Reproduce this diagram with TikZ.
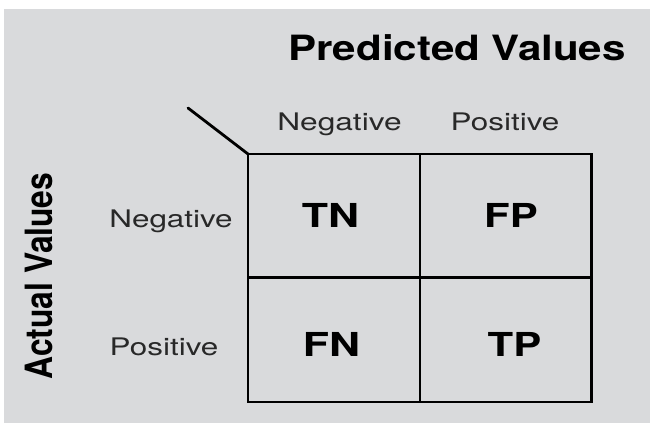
\documentclass[tikz,border=0pt]{standalone}
\usepackage{graphicx}
\usepackage{fontspec}
\setmainfont{TeX Gyre Heros}
\definecolor{panel}{RGB}{217,218,220}
\definecolor{labelgray}{RGB}{40,40,40}
\tikzset{
  txt/.style={anchor=base, inner sep=0pt, outer sep=0pt},
  title/.style={txt, text=black, font=\bfseries\fontsize{34.8}{34.8}\selectfont},
  axis/.style={txt, text=labelgray, font=\fontsize{24.2}{24.2}\selectfont},
  cell/.style={txt, text=black, font=\bfseries\fontsize{33}{33}\selectfont},
  grid/.style={line width=2.8pt, black, line cap=rect}
}
\begin{document}
\begin{tikzpicture}[x=1pt, y=-1pt]
  \useasboundingbox (0,0) rectangle (650,423);
  \fill[white] (0,0) rectangle (650,423);
  \fill[panel] (4,9) rectangle (650,423);

  % matrix frame
  \coordinate (tl) at (248,154);
  \coordinate (tr) at (591.5,154);
  \coordinate (bl) at (248,402);
  \coordinate (br) at (591.5,402);
  \coordinate (tm) at (420,154);
  \coordinate (bm) at (420,402);
  \coordinate (ml) at (248,277.5);
  \coordinate (mr) at (591.5,277.5);
  \coordinate (corner) at (188,108);
  \draw[grid] (tl) rectangle (br);
  \draw[grid] (tm) -- (bm);
  \draw[grid] (ml) -- (mr);
  \draw[line width=2.8pt, line cap=round] (corner) -- (tl);

  % headings
  \node[title] (pred) at (457,60) {\scalebox{1.21}[1]{Predicted Values}};
  \node[title, rotate=90, font=\bfseries\fontsize{37.6}{37.6}\selectfont] (act) at (52,276)
       {\scalebox{0.845}[1]{Actual Values}};

  % column and row labels
  \node[axis] (cneg) at (339.5,130.5) {\scalebox{1.31}[1]{Negative}};
  \node[axis] (cpos) at (505,130.5) {\scalebox{1.30}[1]{Positive}};
  \node[axis] (rneg) at (171,227.5) {\scalebox{1.30}[1]{Negative}};
  \node[axis] (rpos) at (164,355.5) {\scalebox{1.30}[1]{Positive}};

  % cells
  \node[cell] (tn) at (330.5,227.3) {\scalebox{1.30}[1]{TN}};
  \node[cell] (fp) at (511,227.3) {\scalebox{1.27}[1]{FP}};
  \node[cell] (fn) at (331.5,356.5) {\scalebox{1.30}[1]{FN}};
  \node[cell] (tp) at (514.5,356.5) {\scalebox{1.27}[1]{TP}};
\end{tikzpicture}
\end{document}
